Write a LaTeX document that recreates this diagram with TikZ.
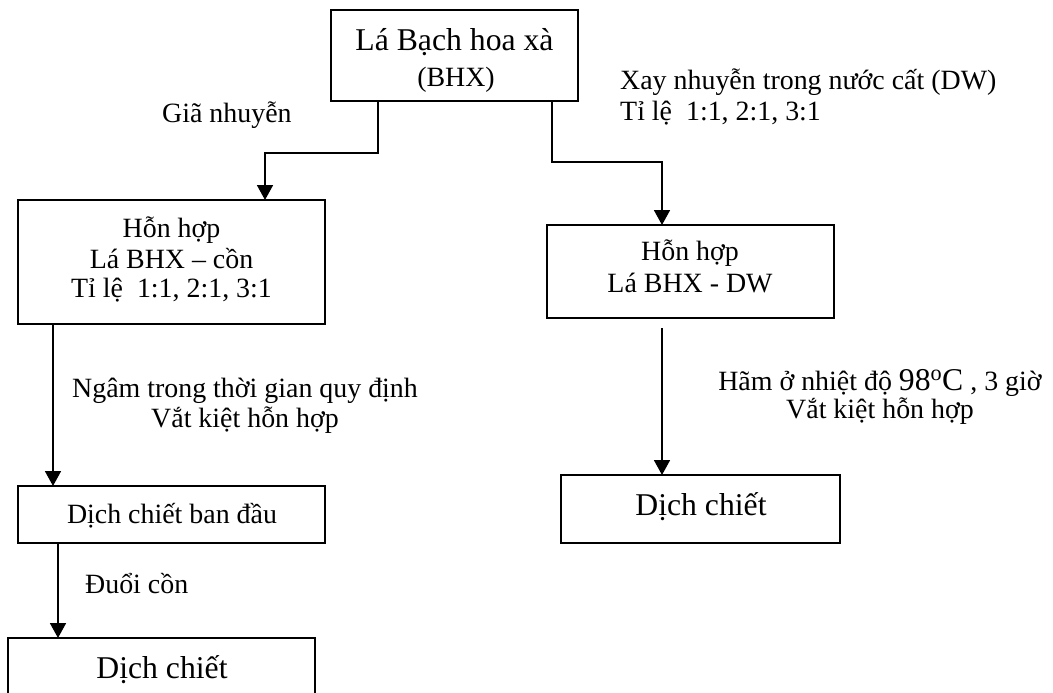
\documentclass[tikz,border=0pt]{standalone}
\usepackage{fontspec}
\setmainfont{Liberation Serif}
\usetikzlibrary{arrows.meta}
\newcommand\nfont{\fontsize{27.9}{32}\selectfont}
\newcommand\bfont{\fontsize{31.7}{36}\selectfont}
\begin{document}
\begin{tikzpicture}[x=1pt,y=-1pt,
  box/.style={draw, line width=1.9pt, inner sep=0pt, outer sep=0pt},
  txt/.style={inner sep=0pt, font=\nfont, anchor=base},
  big/.style={inner sep=0pt, font=\bfont, anchor=base},
  lft/.style={inner sep=0pt, font=\nfont, anchor=base west},
  arr/.style={line width=1.8pt, -{Triangle[width=16pt,length=15pt]}}]
\useasboundingbox (0,0) rectangle (1053,693);
% boxes
\node[box, minimum width=247pt, minimum height=91pt] (top) at (454.5,55.5) {};
\node[big] (topA) at (454.5,51) {Lá Bạch hoa xà};
\node[txt] (topB) at (456,87) {(BHX)};

\node[box, minimum width=307pt, minimum height=124pt] (b1) at (171.5,262) {};
\node[txt] (b1a) at (171.5,237) {Hỗn hợp};
\node[txt] (b1b) at (171.5,268) {Lá BHX – cồn};
\node[txt] (b1c) at (171.5,297) {Tỉ lệ~ 1:1, 2:1, 3:1};

\node[box, minimum width=287pt, minimum height=93pt] (r1) at (690.5,271.5) {};
\node[txt] (r1a) at (690,260) {Hỗn hợp};
\node[txt] (r1b) at (690,292) {Lá BHX - DW};

\node[box, minimum width=307pt, minimum height=57pt] (b2) at (171.5,514.5) {};
\node[txt] (b2a) at (172,523) {Dịch chiết ban đầu};

\node[box, minimum width=279pt, minimum height=68pt] (r2) at (700.5,509) {};
\node[big] (r2a) at (701,515) {Dịch chiết};

\node[box, minimum width=307pt, minimum height=58pt] (b3) at (161.5,667) {};
\node[big] (b3a) at (162,678) {Dịch chiết};

% labels
\node[lft] (l1) at (162,122) {Giã nhuyễn};
\node[lft] (l2) at (620,90) {Xay nhuyễn trong nước cất (DW)};
\node[lft] (l3) at (620,121) {Tỉ lệ~ 1:1, 2:1, 3:1};
\node[txt] (l4) at (245,397) {Ngâm trong thời gian quy định};
\node[txt] (l5) at (245,427) {Vắt kiệt hỗn hợp};
\node[txt] (l6) at (880,390) {Hãm ở nhiệt độ {\bfont 98\textsuperscript{o}C} , 3 giờ};
\node[txt] (l7) at (880,418) {Vắt kiệt hỗn hợp};
\node[lft] (l8) at (85,593) {Đuổi cồn};

% connector x positions
\coordinate (c1) at (378,0);
\coordinate (c2) at (265,0);
\coordinate (c3) at (552,0);
\coordinate (c4) at (662,0);
\coordinate (c5) at (53,0);
\coordinate (c6) at (58,0);
\coordinate (r1gap) at (662,328);

\draw[arr] (top.south -| c1) -- ++(0,52) -| (b1.north -| c2);
\draw[arr] (top.south -| c3) -- ++(0,61) -| (r1.north -| c4);
\draw[arr] (b1.south -| c5) -- (b2.north -| c5);
\draw[arr] (r1gap) -- (r2.north -| r1gap);
\draw[arr] (b2.south -| c6) -- (b3.north -| c6);
\end{tikzpicture}
\end{document}
